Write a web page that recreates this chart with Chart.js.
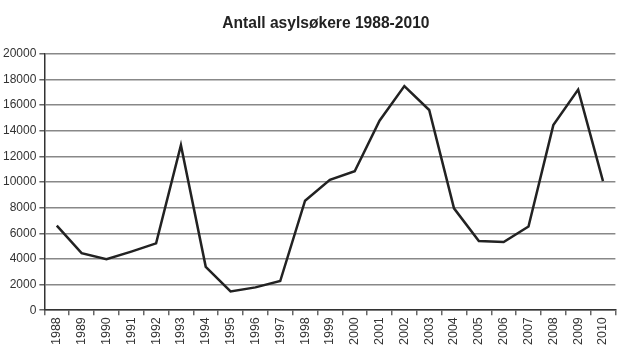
<!DOCTYPE html>
<html>
<head>
<meta charset="utf-8">
<script src="https://cdn.jsdelivr.net/npm/chart.js@4"></script>
<style>
  html, body { margin: 0; padding: 0; background: #fff; }
  #wrap { width: 620px; height: 360px; }
</style>
</head>
<body>
<div id="wrap"><canvas id="asyl_chart"></canvas></div>
<script>
var years = ['1988','1989','1990','1991','1992','1993','1994','1995','1996','1997','1998',
             '1999','2000','2001','2002','2003','2004','2005','2006','2007','2008','2009','2010'];
var asylum_seekers = [6600, 4450, 3970, 4570, 5210, 12870, 3380, 1460, 1780, 2270, 8540,
                      10160, 10840, 14780, 17480, 15610, 7940, 5400, 5320, 6530, 14430, 17200, 10060];

Chart.defaults.font.family = '"Liberation Sans", Arial, sans-serif';
Chart.defaults.font.size = 12;
Chart.defaults.color = '#333';

// center the title over the plot area instead of the whole canvas
var titleOverPlot = {
  id: 'titleOverPlot',
  afterLayout: function(chart) {
    var tb = chart.titleBlock;
    if (!tb) return;
    tb.left = chart.chartArea.left - 4;
    tb.right = chart.chartArea.right - 4;
  }
};

var asyl_chart = new Chart(document.getElementById('asyl_chart'), {
  type: 'line',
  data: {
    labels: years,
    datasets: [{
      label: 'Antall asylsøkere',
      data: asylum_seekers,
      borderColor: '#222',
      borderWidth: 2.5,
      pointRadius: 0,
      tension: 0,
      fill: false
    }]
  },
  plugins: [titleOverPlot],
  options: {
    responsive: true,
    maintainAspectRatio: false,
    animation: false,
    layout: { padding: { top: 6, right: 1, left: 0, bottom: 13 } },
    plugins: {
      legend: { display: false },
      tooltip: { enabled: false },
      title: {
        display: true,
        text: 'Antall asylsøkere 1988-2010',
        color: '#222',
        font: { size: 15.6, weight: 'bold' },
        padding: { top: 8, bottom: 21 }
      }
    },
    scales: {
      x: {
        offset: true,
        grid: {
          offset: true,
          drawOnChartArea: true,
          color: function(ctx) { return ctx.index === years.length ? '#999' : 'rgba(0,0,0,0)'; },
          tickColor: '#666',
          tickLength: 5,
          lineWidth: 1.5
        },
        border: { display: true, color: '#333', width: 1.5 },
        ticks: {
          minRotation: 90,
          maxRotation: 90,
          autoSkip: false,
          padding: 2,
          color: '#333',
          font: { size: 12.5 }
        }
      },
      y: {
        min: 0,
        max: 20000,
        ticks: {
          stepSize: 2000,
          padding: 3,
          color: '#333',
          callback: function(v) { return String(v); }
        },
        grid: { color: '#888', lineWidth: 1.5, tickColor: '#666', tickLength: 5 },
        border: { display: true, color: '#333', width: 1.5 }
      }
    }
  }
});
</script>
</body>
</html>
